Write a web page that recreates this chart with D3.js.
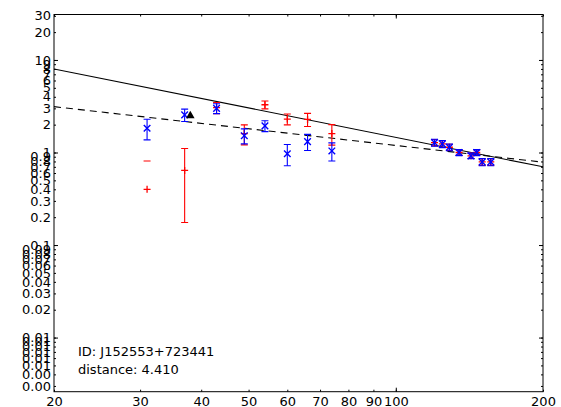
<!DOCTYPE html>
<html>
<head>
<meta charset="utf-8">
<script src="https://cdn.jsdelivr.net/npm/d3@7/dist/d3.min.js"></script>
<style>
  html, body { margin: 0; padding: 0; background: #fff; }
  svg { display: block; font-family: "DejaVu Sans", sans-serif; }
</style>
</head>
<body>
<svg id="chart" width="561" height="407"></svg>
<script>
// Blue series (x markers) with symmetric errors
const blueX   = [31, 37, 43, 49, 54, 60, 66, 74, 120, 124.5, 128.7, 134.7, 142.5, 146.4, 150.2, 156.4];
const blueY   = [1.83, 2.55, 3.0, 1.52, 1.94, 0.97, 1.31, 1.04, 1.28, 1.24, 1.14, 1.0, 0.92, 1.0, 0.79, 0.79];
const blueErr = [0.46, 0.39, 0.37, 0.28, 0.26, 0.25, 0.26, 0.23, 0.11, 0.11, 0.095, 0.075, 0.065, 0.075, 0.07, 0.07];

// Red series (+ markers) with symmetric errors
const redX   = [31, 37, 43, 49, 54, 60, 66, 74, 120, 124.5, 128.7, 134.7, 142.5, 146.4, 150.2, 156.4];
const redY   = [0.40, 0.64, 3.05, 1.60, 3.28, 2.30, 2.28, 1.60, 1.28, 1.24, 1.14, 1.0, 0.92, 1.0, 0.79, 0.79];
const redErr = [0.41, 0.465, 0.42, 0.39, 0.32, 0.31, 0.37, 0.40, 0.10, 0.10, 0.09, 0.07, 0.06, 0.07, 0.065, 0.065];

// Single reference point (black triangle)
const refX = [38];
const refY = [2.5];

// Power-law models, given at the ends of the x range
const modelX      = [20, 200];
const modelSolid  = [8.0, 0.70];
const modelDashed = [3.13, 0.786];

// Axis ticks
const xTicks      = [20, 30, 40, 50, 60, 70, 80, 90, 100, 200];
const xTickLabels = ["20", "30", "40", "50", "60", "70", "80", "90", "100", "200"];
const xMajor      = [100];
const yTicks = [0.003, 0.004, 0.005, 0.006, 0.007, 0.008, 0.009,
                0.01, 0.02, 0.03, 0.04, 0.05, 0.06, 0.07, 0.08, 0.09,
                0.1, 0.2, 0.3, 0.4, 0.5, 0.6, 0.7, 0.8, 0.9,
                1, 2, 3, 4, 5, 6, 7, 8, 9, 10, 20, 30];
const yTickLabels = ["0.00", "0.00", "0.01", "0.01", "0.01", "0.01", "0.01",
                     "0.01", "0.02", "0.03", "0.04", "0.05", "0.06", "0.07", "0.08", "0.09",
                     "0.1", "0.2", "0.3", "0.4", "0.5", "0.6", "0.7", "0.8", "0.9",
                     "1", "2", "3", "4", "5", "6", "7", "8", "9", "10", "20", "30"];
const yMajor = [0.01, 0.1, 1, 10];

const annotation = ["ID: J152553+723441", "distance: 4.410"];

const m = { left: 54, right: 543, top: 14.5, bottom: 391.7 };
const svg = d3.select("#chart");

const x = d3.scaleLog().domain([20, 200]).range([m.left, m.right]);
const y = d3.scaleLog().domain([0.0026, 31]).range([m.bottom, m.top]);

svg.append("defs").append("clipPath").attr("id", "plot-clip")
  .append("rect").attr("x", m.left).attr("y", m.top)
  .attr("width", m.right - m.left).attr("height", m.bottom - m.top);

const plot = svg.append("g").attr("clip-path", "url(#plot-clip)");

// model lines
const line = d3.line().x(d => x(d[0])).y(d => y(d[1]));
plot.append("path")
  .attr("d", line(modelX.map((v, i) => [v, modelSolid[i]])))
  .attr("fill", "none").attr("stroke", "#000").attr("stroke-width", 1.1);
plot.append("path")
  .attr("d", line(modelX.map((v, i) => [v, modelDashed[i]])))
  .attr("fill", "none").attr("stroke", "#000").attr("stroke-width", 1.1)
  .attr("stroke-dasharray", "7,5");

// error bars: a non-positive lower end cannot be shown on a log axis,
// so only the upper cap is drawn in that case
function errorBars(xs, ys, errs, color, marker) {
  const g = plot.append("g").attr("stroke", color).attr("stroke-width", 1.1).attr("fill", "none");
  const cap = 3.5;
  xs.forEach((xv, i) => {
    const cx = x(xv);
    const hi = ys[i] + errs[i];
    const lo = ys[i] - errs[i];
    const yHi = y(hi);
    if (lo > 0) {
      const yLo = y(lo);
      g.append("line").attr("x1", cx).attr("x2", cx).attr("y1", yHi).attr("y2", yLo);
      g.append("line").attr("x1", cx - cap).attr("x2", cx + cap).attr("y1", yLo).attr("y2", yLo);
    }
    g.append("line").attr("x1", cx - cap).attr("x2", cx + cap).attr("y1", yHi).attr("y2", yHi);
    const cy = y(ys[i]);
    if (marker === "x") {
      const s = 3.3;
      g.append("path").attr("stroke-width", 1.4)
        .attr("d", `M${cx - s},${cy - s}L${cx + s},${cy + s}M${cx - s},${cy + s}L${cx + s},${cy - s}`);
    } else {
      const s = 3.5;
      g.append("path").attr("stroke-width", 1.3)
        .attr("d", `M${cx - s},${cy}L${cx + s},${cy}M${cx},${cy - s}L${cx},${cy + s}`);
    }
  });
}
errorBars(redX, redY, redErr, "#ff0000", "+");
errorBars(blueX, blueY, blueErr, "#0000ff", "x");

// reference triangle
plot.selectAll("path.ref").data(refX).join("path")
  .attr("class", "ref")
  .attr("transform", (d, i) => `translate(${x(d)},${y(refY[i])})`)
  .attr("d", d3.symbol().type(d3.symbolTriangle).size(32))
  .attr("fill", "#000");

// axes: labels with minor-length ticks, then major ticks on top
const fs = "13px";
function styleAxis(g) {
  g.select(".domain").remove();
  g.selectAll("text").attr("fill", "#000").style("font-size", fs).style("font-family", "DejaVu Sans");
  g.selectAll("line").attr("stroke", "#000");
}
// bottom
svg.append("g").attr("transform", `translate(0,${m.bottom})`)
  .call(d3.axisBottom(x).tickValues(xTicks).tickFormat((d, i) => xTickLabels[i]).tickSizeInner(-2).tickSizeOuter(0).tickPadding(5))
  .call(styleAxis);
svg.append("g").attr("transform", `translate(0,${m.bottom})`)
  .call(d3.axisBottom(x).tickValues(xMajor).tickFormat("").tickSizeInner(-4).tickSizeOuter(0))
  .call(styleAxis);
// top
svg.append("g").attr("transform", `translate(0,${m.top})`)
  .call(d3.axisTop(x).tickValues(xTicks).tickFormat("").tickSizeInner(-2).tickSizeOuter(0))
  .call(styleAxis);
svg.append("g").attr("transform", `translate(0,${m.top})`)
  .call(d3.axisTop(x).tickValues(xMajor).tickFormat("").tickSizeInner(-4).tickSizeOuter(0))
  .call(styleAxis);
// left
svg.append("g").attr("transform", `translate(${m.left},0)`)
  .call(d3.axisLeft(y).tickValues(yTicks).tickFormat((d, i) => yTickLabels[i]).tickSizeInner(-2).tickSizeOuter(0).tickPadding(3))
  .call(styleAxis);
svg.append("g").attr("transform", `translate(${m.left},0)`)
  .call(d3.axisLeft(y).tickValues(yMajor).tickFormat("").tickSizeInner(-4).tickSizeOuter(0))
  .call(styleAxis);
// right
svg.append("g").attr("transform", `translate(${m.right},0)`)
  .call(d3.axisRight(y).tickValues(yTicks).tickFormat("").tickSizeInner(-2).tickSizeOuter(0))
  .call(styleAxis);
svg.append("g").attr("transform", `translate(${m.right},0)`)
  .call(d3.axisRight(y).tickValues(yMajor).tickFormat("").tickSizeInner(-4).tickSizeOuter(0))
  .call(styleAxis);

// frame
svg.append("rect")
  .attr("x", m.left).attr("y", m.top)
  .attr("width", m.right - m.left).attr("height", m.bottom - m.top)
  .attr("fill", "none").attr("stroke", "#000").attr("stroke-width", 1);

// annotation
svg.append("g").selectAll("text").data(annotation).join("text")
  .attr("x", 78).attr("y", (d, i) => 356 + i * 18.3)
  .style("font-size", fs).attr("fill", "#000")
  .text(d => d);
</script>
</body>
</html>
